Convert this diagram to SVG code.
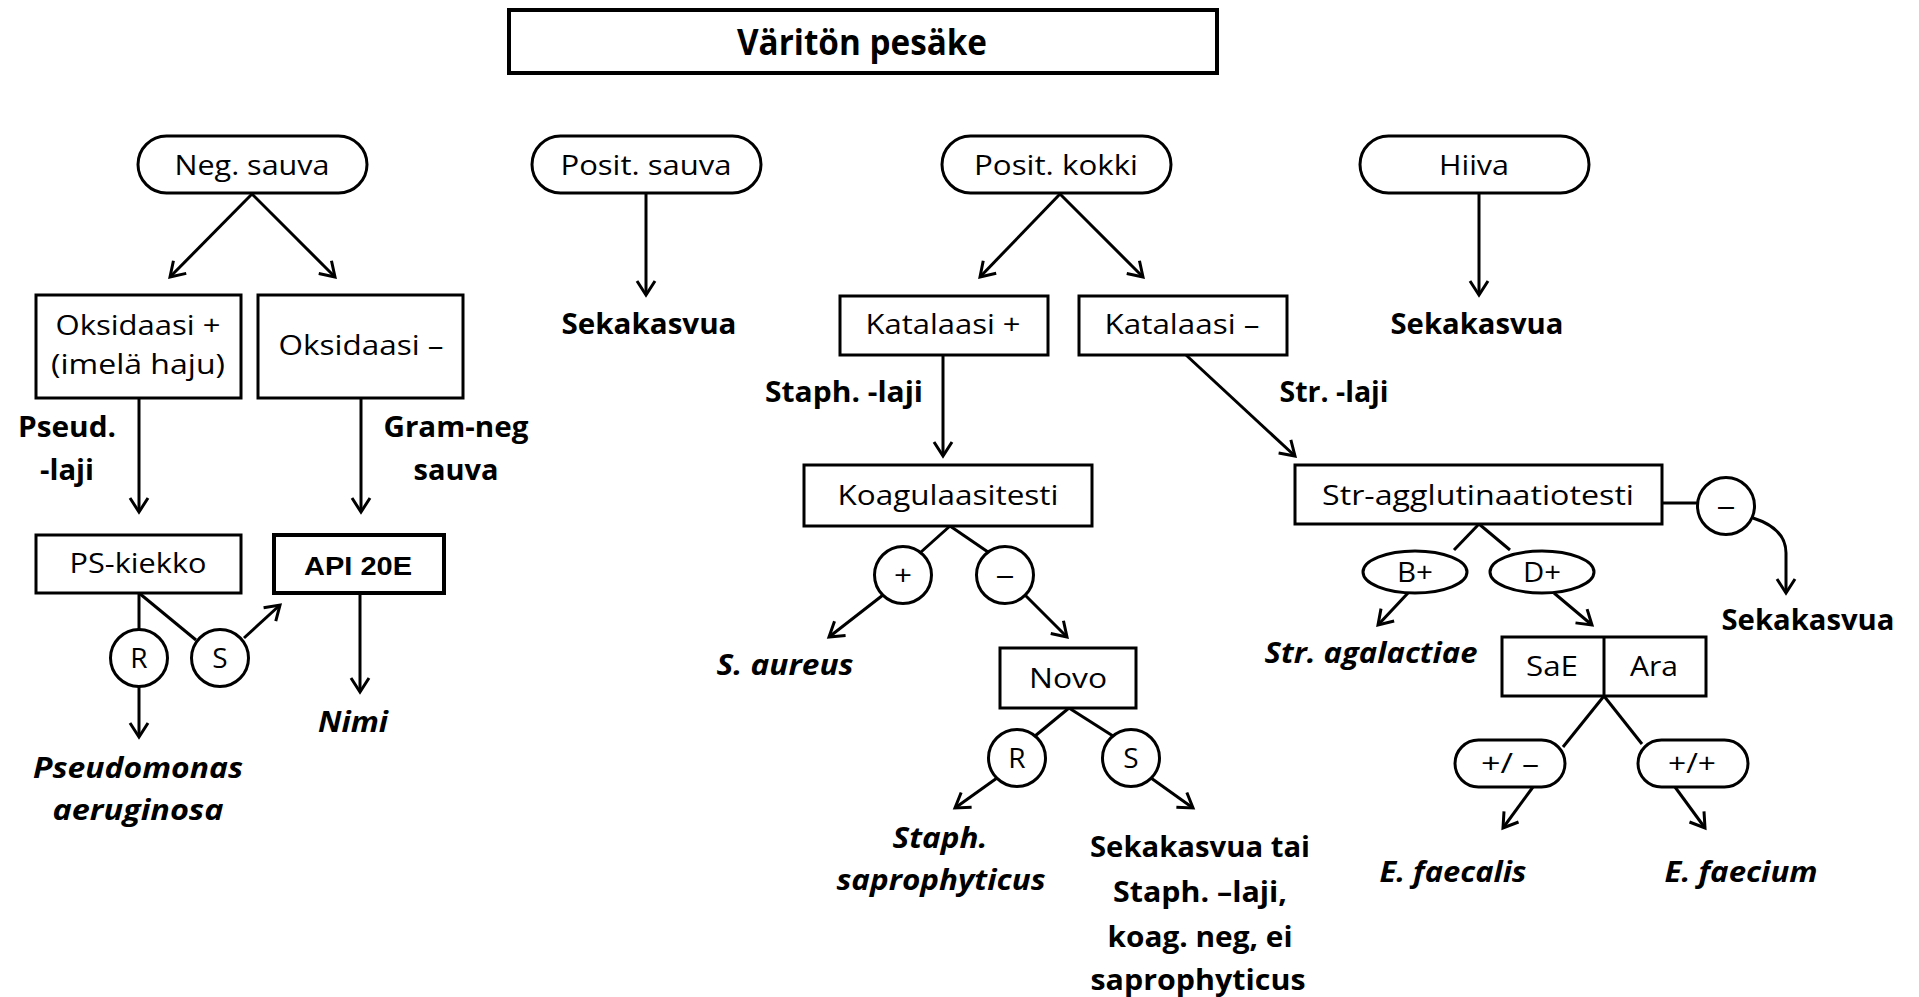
<svg xmlns="http://www.w3.org/2000/svg" width="1919" height="997" viewBox="0 0 1919 997">
  <style>
    .box { fill: #fff; stroke: #000; stroke-width: 3; }
    .thick { stroke-width: 4; }
    .ln { fill: none; stroke: #000; stroke-width: 3; }
    .arr { fill: none; stroke: #000; stroke-width: 3; marker-end: url(#head); }
    text { font-family: "Open Sans", "Noto Sans", "DejaVu Sans", sans-serif; fill: #000; text-anchor: middle; }
    .t { font-size: 28px; }
    .s { font-size: 27px; }
    .c { font-size: 28px; }
    .b { font-size: 28px; font-weight: bold; }
    .bi { font-size: 28px; font-weight: bold; font-style: italic; }
    .title { font-size: 36px; font-weight: bold; }
    .api { font-family: "Liberation Sans", Arial, sans-serif; font-size: 26px; font-weight: bold; }
  </style>
  <defs>
    <marker id="head" viewBox="-18 -12 22 24" refX="0" refY="0" markerWidth="22" markerHeight="24" markerUnits="userSpaceOnUse" orient="auto">
      <path d="M-14,-9 L0,0 L-14,9" fill="none" stroke="#000" stroke-width="3"/>
    </marker>
  </defs>

  <rect width="1919" height="997" fill="#fff"/>

  <!-- connectors -->
  <g id="connectors">
    <!-- Neg. sauva branch -->
    <line class="arr" x1="252" y1="194" x2="170" y2="277"/>
    <line class="arr" x1="252" y1="194" x2="335" y2="277"/>
    <line class="arr" x1="139" y1="398" x2="139" y2="512"/>
    <line class="arr" x1="361" y1="398" x2="361" y2="512"/>
    <line class="ln" x1="139" y1="593" x2="139" y2="630"/>
    <line class="ln" x1="139" y1="593" x2="196" y2="640"/>
    <line class="arr" x1="244" y1="638" x2="280" y2="605"/>
    <line class="arr" x1="139" y1="687" x2="139" y2="737"/>
    <line class="arr" x1="360" y1="593" x2="360" y2="692"/>

    <!-- Posit. sauva -->
    <line class="arr" x1="646" y1="193" x2="646" y2="295"/>

    <!-- Posit. kokki branch -->
    <line class="arr" x1="1060" y1="194" x2="980" y2="277"/>
    <line class="arr" x1="1060" y1="194" x2="1143" y2="277"/>
    <line class="arr" x1="943" y1="355" x2="943" y2="456"/>
    <line class="arr" x1="1186" y1="355" x2="1295" y2="456"/>

    <!-- Koagulaasitesti -->
    <line class="ln" x1="950" y1="526" x2="921" y2="552"/>
    <line class="ln" x1="950" y1="526" x2="988" y2="552"/>
    <line class="arr" x1="883" y1="595" x2="829" y2="637"/>
    <line class="arr" x1="1025" y1="595" x2="1067" y2="637"/>

    <!-- Novo -->
    <line class="ln" x1="1069" y1="708" x2="1035" y2="736"/>
    <line class="ln" x1="1069" y1="708" x2="1113" y2="736"/>
    <line class="arr" x1="997" y1="778" x2="955" y2="808"/>
    <line class="arr" x1="1151" y1="778" x2="1193" y2="808"/>

    <!-- Hiiva -->
    <line class="arr" x1="1479" y1="193" x2="1479" y2="295"/>

    <!-- Str-agglutinaatiotesti -->
    <line class="ln" x1="1662" y1="503" x2="1697" y2="503"/>
    <path class="arr" d="M1753,518 C1772,524 1786,534 1786,553 L1786,593"/>
    <line class="ln" x1="1479" y1="524" x2="1454" y2="550"/>
    <line class="ln" x1="1479" y1="524" x2="1510" y2="550"/>
    <line class="arr" x1="1408" y1="593" x2="1378" y2="625"/>
    <line class="arr" x1="1554" y1="593" x2="1592" y2="625"/>

    <!-- SaE / Ara -->
    <line class="ln" x1="1604" y1="696" x2="1563" y2="747"/>
    <line class="ln" x1="1604" y1="696" x2="1642" y2="744"/>
    <line class="arr" x1="1533" y1="787" x2="1503" y2="828"/>
    <line class="arr" x1="1675" y1="787" x2="1705" y2="828"/>
  </g>

  <!-- title -->
  <g id="varitonpesake">
    <rect class="box thick" x="509" y="10" width="708" height="63"/>
    <text class="title" x="862" y="55" textLength="250" lengthAdjust="spacingAndGlyphs">Väritön pesäke</text>
  </g>

  <!-- top level groups -->
  <g id="negsauva">
    <rect class="box" x="138" y="136" width="229" height="57" rx="28.5"/>
    <text class="t" x="252" y="175" textLength="155" lengthAdjust="spacingAndGlyphs">Neg. sauva</text>
  </g>
  <g id="positsauva">
    <rect class="box" x="532" y="136" width="229" height="57" rx="28.5"/>
    <text class="t" x="646" y="175" textLength="171" lengthAdjust="spacingAndGlyphs">Posit. sauva</text>
  </g>
  <g id="positkokki">
    <rect class="box" x="942" y="136" width="229" height="57" rx="28.5"/>
    <text class="t" x="1056" y="175" textLength="164" lengthAdjust="spacingAndGlyphs">Posit. kokki</text>
  </g>
  <g id="hiiva">
    <rect class="box" x="1360" y="136" width="229" height="57" rx="28.5"/>
    <text class="t" x="1474" y="175" textLength="70" lengthAdjust="spacingAndGlyphs">Hiiva</text>
  </g>

  <!-- Neg. sauva branch -->
  <g id="oksidaasiplus">
    <rect class="box" x="36" y="295" width="205" height="103"/>
    <text class="t" x="138" y="335" textLength="165" lengthAdjust="spacingAndGlyphs">Oksidaasi +</text>
    <text class="t" x="138" y="374" textLength="174" lengthAdjust="spacingAndGlyphs">(imelä haju)</text>
  </g>
  <g id="oksidaasiminus">
    <rect class="box" x="258" y="295" width="205" height="103"/>
    <text class="t" x="361" y="355" textLength="165" lengthAdjust="spacingAndGlyphs">Oksidaasi –</text>
  </g>
  <g id="pseudlaji">
    <text class="b" x="67" y="437" textLength="98" lengthAdjust="spacingAndGlyphs">Pseud.</text>
    <text class="b" x="67" y="480" textLength="54" lengthAdjust="spacingAndGlyphs">-laji</text>
  </g>
  <g id="gramneg">
    <text class="b" x="456" y="437" textLength="145" lengthAdjust="spacingAndGlyphs">Gram-neg</text>
    <text class="b" x="456" y="480" textLength="85" lengthAdjust="spacingAndGlyphs">sauva</text>
  </g>
  <g id="pskiekko">
    <rect class="box" x="36" y="535" width="205" height="58"/>
    <text class="t" x="138" y="573" textLength="137" lengthAdjust="spacingAndGlyphs">PS-kiekko</text>
  </g>
  <g id="api20e">
    <rect class="box thick" x="274" y="535" width="170" height="58"/>
    <text class="api" x="358" y="575" textLength="108" lengthAdjust="spacingAndGlyphs">API 20E</text>
  </g>
  <g id="ps-r">
    <circle class="box" cx="139" cy="658" r="28.5"/>
    <text class="c" x="139" y="668">R</text>
  </g>
  <g id="ps-s">
    <circle class="box" cx="220" cy="658" r="28.5"/>
    <text class="c" x="220" y="668">S</text>
  </g>
  <g id="nimi">
    <text class="bi" x="353" y="732" textLength="70" lengthAdjust="spacingAndGlyphs">Nimi</text>
  </g>
  <g id="pseudomonas">
    <text class="bi" x="138" y="778" textLength="210" lengthAdjust="spacingAndGlyphs">Pseudomonas</text>
    <text class="bi" x="138" y="820" textLength="171" lengthAdjust="spacingAndGlyphs">aeruginosa</text>
  </g>

  <!-- Posit. sauva result -->
  <g id="sekakasvua1">
    <text class="b" x="649" y="334" textLength="175" lengthAdjust="spacingAndGlyphs">Sekakasvua</text>
  </g>

  <!-- Posit. kokki branch -->
  <g id="katalaasiplus">
    <rect class="box" x="840" y="296" width="208" height="59"/>
    <text class="t" x="943" y="334" textLength="155" lengthAdjust="spacingAndGlyphs">Katalaasi +</text>
  </g>
  <g id="katalaasiminus">
    <rect class="box" x="1079" y="296" width="208" height="59"/>
    <text class="t" x="1182" y="334" textLength="155" lengthAdjust="spacingAndGlyphs">Katalaasi –</text>
  </g>
  <g id="staphlaji">
    <text class="b" x="844" y="402" textLength="158" lengthAdjust="spacingAndGlyphs">Staph. -laji</text>
  </g>
  <g id="strlaji">
    <text class="b" x="1334" y="402" textLength="109" lengthAdjust="spacingAndGlyphs">Str. -laji</text>
  </g>
  <g id="koagulaasitesti">
    <rect class="box" x="804" y="465" width="288" height="61"/>
    <text class="t" x="948" y="505" textLength="221" lengthAdjust="spacingAndGlyphs">Koagulaasitesti</text>
  </g>
  <g id="koag-plus">
    <circle class="box" cx="903" cy="575" r="28.5"/>
    <text class="c" x="903" y="585" textLength="18" lengthAdjust="spacingAndGlyphs">+</text>
  </g>
  <g id="koag-minus">
    <circle class="box" cx="1005" cy="575" r="28.5"/>
    <text class="c" x="1005" y="584" textLength="19" lengthAdjust="spacingAndGlyphs">–</text>
  </g>
  <g id="saureus">
    <text class="bi" x="785" y="675" textLength="137" lengthAdjust="spacingAndGlyphs">S. aureus</text>
  </g>
  <g id="novo">
    <rect class="box" x="1000" y="648" width="136" height="60"/>
    <text class="t" x="1068" y="688" textLength="78" lengthAdjust="spacingAndGlyphs">Novo</text>
  </g>
  <g id="novo-r">
    <circle class="box" cx="1017" cy="758" r="28.5"/>
    <text class="c" x="1017" y="768">R</text>
  </g>
  <g id="novo-s">
    <circle class="box" cx="1131" cy="758" r="28.5"/>
    <text class="c" x="1131" y="768">S</text>
  </g>
  <g id="staphsaprophyticus">
    <text class="bi" x="940" y="848" textLength="95" lengthAdjust="spacingAndGlyphs">Staph.</text>
    <text class="bi" x="941" y="890" textLength="209" lengthAdjust="spacingAndGlyphs">saprophyticus</text>
  </g>
  <g id="sekakasvuatai">
    <text class="b" x="1200" y="857" textLength="220" lengthAdjust="spacingAndGlyphs">Sekakasvua tai</text>
    <text class="b" x="1200" y="902" textLength="174" lengthAdjust="spacingAndGlyphs">Staph. –laji,</text>
    <text class="b" x="1200" y="947" textLength="185" lengthAdjust="spacingAndGlyphs">koag. neg, ei</text>
    <text class="b" x="1198" y="990" textLength="215" lengthAdjust="spacingAndGlyphs">saprophyticus</text>
  </g>

  <!-- Streptococcus branch -->
  <g id="stragglutinaatiotesti">
    <rect class="box" x="1295" y="465" width="367" height="59"/>
    <text class="t" x="1478" y="505" textLength="312" lengthAdjust="spacingAndGlyphs">Str-agglutinaatiotesti</text>
  </g>
  <g id="stragg-minus">
    <circle class="box" cx="1726" cy="506" r="28.5"/>
    <text class="c" x="1726" y="515" textLength="19" lengthAdjust="spacingAndGlyphs">–</text>
  </g>
  <g id="sekakasvua3">
    <text class="b" x="1808" y="630" textLength="173" lengthAdjust="spacingAndGlyphs">Sekakasvua</text>
  </g>
  <g id="bplus">
    <ellipse class="box" cx="1415" cy="572" rx="52" ry="21"/>
    <text class="s" x="1415" y="582" textLength="36" lengthAdjust="spacingAndGlyphs">B+</text>
  </g>
  <g id="dplus">
    <ellipse class="box" cx="1542" cy="572" rx="52" ry="21"/>
    <text class="s" x="1542" y="582" textLength="38" lengthAdjust="spacingAndGlyphs">D+</text>
  </g>
  <g id="stragalactiae">
    <text class="bi" x="1371" y="663" textLength="213" lengthAdjust="spacingAndGlyphs">Str. agalactiae</text>
  </g>
  <g id="saeara">
    <rect class="box" x="1502" y="637" width="204" height="59"/>
    <line class="ln" x1="1604" y1="637" x2="1604" y2="696"/>
    <text class="s" x="1552" y="676" textLength="52" lengthAdjust="spacingAndGlyphs">SaE</text>
    <text class="s" x="1654" y="676" textLength="48" lengthAdjust="spacingAndGlyphs">Ara</text>
  </g>
  <g id="plusminus">
    <rect class="box" x="1455" y="740" width="110" height="47" rx="23.5"/>
    <text class="s" x="1510" y="773" textLength="58" lengthAdjust="spacingAndGlyphs">+/ –</text>
  </g>
  <g id="plusplus">
    <rect class="box" x="1638" y="740" width="110" height="47" rx="23.5"/>
    <text class="s" x="1692" y="773" textLength="48" lengthAdjust="spacingAndGlyphs">+/+</text>
  </g>
  <g id="efaecalis">
    <text class="bi" x="1453" y="882" textLength="147" lengthAdjust="spacingAndGlyphs">E. faecalis</text>
  </g>
  <g id="efaecium">
    <text class="bi" x="1741" y="882" textLength="153" lengthAdjust="spacingAndGlyphs">E. faecium</text>
  </g>

  <!-- Hiiva result -->
  <g id="sekakasvua2">
    <text class="b" x="1477" y="334" textLength="173" lengthAdjust="spacingAndGlyphs">Sekakasvua</text>
  </g>
</svg>
